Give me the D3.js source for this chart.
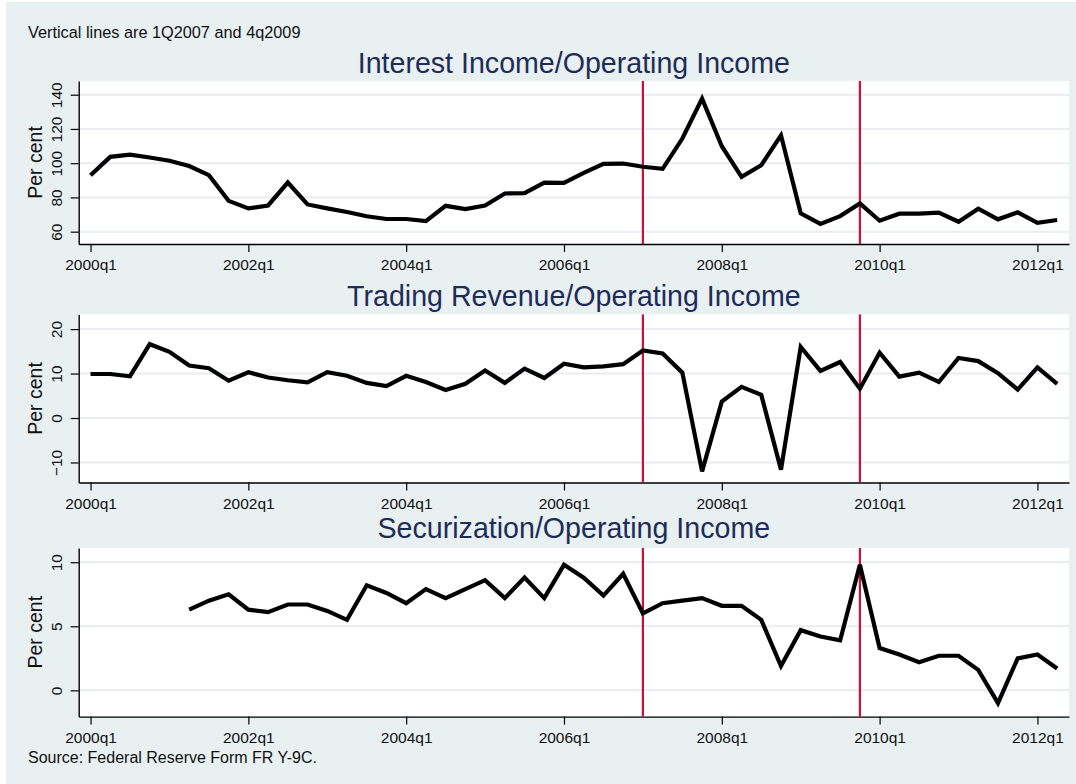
<!DOCTYPE html>
<html>
<head>
<meta charset="utf-8">
<script src="https://cdn.jsdelivr.net/npm/d3@7"></script>
<style>
  html, body { margin: 0; padding: 0; background: #ffffff; }
  svg { display: block; font-family: "Liberation Sans", Arial, sans-serif; }
</style>
</head>
<body>
<svg id="chart" width="1076" height="784"></svg>
<script>
// ---------------- Data ----------------
const quarters = [
  "2000q1","2000q2","2000q3","2000q4","2001q1","2001q2","2001q3","2001q4",
  "2002q1","2002q2","2002q3","2002q4","2003q1","2003q2","2003q3","2003q4",
  "2004q1","2004q2","2004q3","2004q4","2005q1","2005q2","2005q3","2005q4",
  "2006q1","2006q2","2006q3","2006q4","2007q1","2007q2","2007q3","2007q4",
  "2008q1","2008q2","2008q3","2008q4","2009q1","2009q2","2009q3","2009q4",
  "2010q1","2010q2","2010q3","2010q4","2011q1","2011q2","2011q3","2011q4",
  "2012q1","2012q2"
];
const xTickLabels = ["2000q1","2002q1","2004q1","2006q1","2008q1","2010q1","2012q1"];
const markerQuarters = ["2007q1","2009q4"];

const panelTitles = [
  "Interest Income/Operating Income",
  "Trading Revenue/Operating Income",
  "Securization/Operating Income"
];

const interestIncome = [
  93.0,103.7,105.0,103.3,101.4,98.3,93.0,78.0,
  73.6,75.3,88.7,75.9,73.6,71.5,69.0,67.4,
  67.4,66.2,75.1,73.2,75.3,82.3,82.5,88.7,
  88.5,94.4,99.6,99.8,97.9,96.7,114.4,137.7,
  109.9,92.0,98.8,116.3,70.7,64.5,69.1,76.5,
  66.4,70.5,70.5,71.1,65.8,73.4,67.2,71.3,
  65.2,66.8
];
const tradingRevenue = [
  9.9,9.9,9.4,16.6,14.9,11.8,11.2,8.4,
  10.3,9.1,8.5,8.0,10.3,9.5,7.9,7.2,
  9.5,8.1,6.3,7.7,10.7,7.9,11.1,9.0,
  12.2,11.4,11.6,12.1,15.2,14.5,10.2,-12.0,
  3.7,7.0,5.2,-11.6,16.0,10.6,12.6,6.6,
  14.7,9.3,10.2,8.1,13.5,12.8,10.1,6.4,
  11.4,7.7
];
const securitization = [
  null,null,null,null,null,6.3,7.0,7.5,
  6.3,6.1,6.7,6.7,6.2,5.5,8.2,7.6,
  6.8,7.9,7.2,7.9,8.6,7.2,8.8,7.2,
  9.8,8.8,7.4,9.1,6.0,6.8,7.0,7.2,
  6.6,6.6,5.5,1.9,4.7,4.2,3.9,9.8,
  3.3,2.8,2.2,2.7,2.7,1.6,-1.0,2.5,
  2.8,1.7
];

const yTicks1 = [60, 80, 100, 120, 140];
const yTicks2 = [-10, 0, 10, 20];
const yTicks3 = [0, 5, 10];
const yRange1 = [52.8, 148.0];
const yRange2 = [-14.5, 23.3];
const yRange3 = [-2.05, 11.12];

const noteText = "Vertical lines are 1Q2007 and 4q2009";
const sourceText = "Source: Federal Reserve Form FR Y-9C.";
const yTitle = "Per cent";

// ---------------- Layout ----------------
const svg = d3.select("#chart");
const plotLeft = 78.7, plotRight = 1069;
const bg = "#e8f0f2";
const titleColor = "#1f2c57";
const gridColor = "#e6eef1";
const redColor = "#c8103a";

svg.append("rect").attr("x", 6).attr("y", 2).attr("width", 1070).attr("height", 782).attr("fill", bg);

svg.append("text").attr("x", 28).attr("y", 38).attr("font-size", 16.3).attr("fill", "#111").text(noteText);
svg.append("text").attr("x", 28).attr("y", 763).attr("font-size", 16).attr("fill", "#111").text(sourceText);

const x = d3.scaleLinear().domain([-0.6, 49.6]).range([plotLeft, plotRight]);

const panels = [
  { title: panelTitles[0], data: interestIncome, ticks: yTicks1, dom: yRange1, top: 81, bottom: 244, titleY: 73.4 },
  { title: panelTitles[1], data: tradingRevenue, ticks: yTicks2, dom: yRange2, top: 314.4, bottom: 482.5, titleY: 305.8 },
  { title: panelTitles[2], data: securitization, ticks: yTicks3, dom: yRange3, top: 547.9, bottom: 716.6, titleY: 538.2 }
];

panels.forEach(p => {
  const y = d3.scaleLinear().domain(p.dom).range([p.bottom, p.top]);
  const g = svg.append("g");

  // plot region
  g.append("rect").attr("x", plotLeft).attr("y", p.top)
    .attr("width", plotRight - plotLeft).attr("height", p.bottom - p.top).attr("fill", "#ffffff");

  // gridlines
  g.selectAll("line.grid").data(p.ticks).join("line").attr("class", "grid")
    .attr("x1", plotLeft).attr("x2", plotRight)
    .attr("y1", d => y(d)).attr("y2", d => y(d))
    .attr("stroke", gridColor).attr("stroke-width", 2);

  // title
  g.append("text").attr("x", (plotLeft + plotRight) / 2).attr("y", p.titleY)
    .attr("text-anchor", "middle").attr("font-size", 28.6).attr("fill", titleColor).text(p.title);

  // y axis
  const ya = g.append("g").attr("transform", `translate(${plotLeft},0)`)
    .call(d3.axisLeft(y).tickValues(p.ticks).tickSize(8).tickSizeOuter(0));
  ya.select(".domain").attr("stroke", "#000").attr("stroke-width", 1.4);
  ya.selectAll(".tick line").attr("stroke", "#000").attr("stroke-width", 1.2);
  ya.selectAll(".tick text")
    .attr("transform", "rotate(-90)")
    .attr("x", 0).attr("y", -16.7).attr("dy", null)
    .attr("text-anchor", "middle")
    .attr("font-size", 15.5).attr("font-family", "Liberation Sans, Arial, sans-serif").attr("fill", "#111");

  // y title
  g.append("text")
    .attr("transform", `translate(42,${(p.top + p.bottom) / 2}) rotate(-90)`)
    .attr("text-anchor", "middle").attr("font-size", 19.5).attr("fill", "#111").text(yTitle);

  // x axis
  const xa = g.append("g").attr("transform", `translate(0,${p.bottom})`)
    .call(d3.axisBottom(x)
      .tickValues(xTickLabels.map(l => quarters.indexOf(l)))
      .tickFormat(i => quarters[i])
      .tickSize(8).tickSizeOuter(0));
  xa.select(".domain").attr("stroke", "#000").attr("stroke-width", 1.4);
  xa.selectAll(".tick line").attr("stroke", "#000").attr("stroke-width", 1.2);
  xa.selectAll(".tick text").attr("y", 26).attr("dy", null)
    .attr("font-size", 15.5).attr("font-family", "Liberation Sans, Arial, sans-serif").attr("fill", "#111");

  // vertical marker lines
  g.selectAll("line.mark").data(markerQuarters).join("line").attr("class", "mark")
    .attr("x1", d => x(quarters.indexOf(d))).attr("x2", d => x(quarters.indexOf(d)))
    .attr("y1", p.top).attr("y2", p.bottom)
    .attr("stroke", redColor).attr("stroke-width", 2.2);

  // data line
  const line = d3.line().defined(d => d != null).x((d, i) => x(i)).y(d => y(d));
  g.append("path").datum(p.data).attr("d", line)
    .attr("fill", "none").attr("stroke", "#000").attr("stroke-width", 4.2)
    .attr("stroke-linejoin", "miter").attr("stroke-miterlimit", 3);
});
</script>
</body>
</html>
